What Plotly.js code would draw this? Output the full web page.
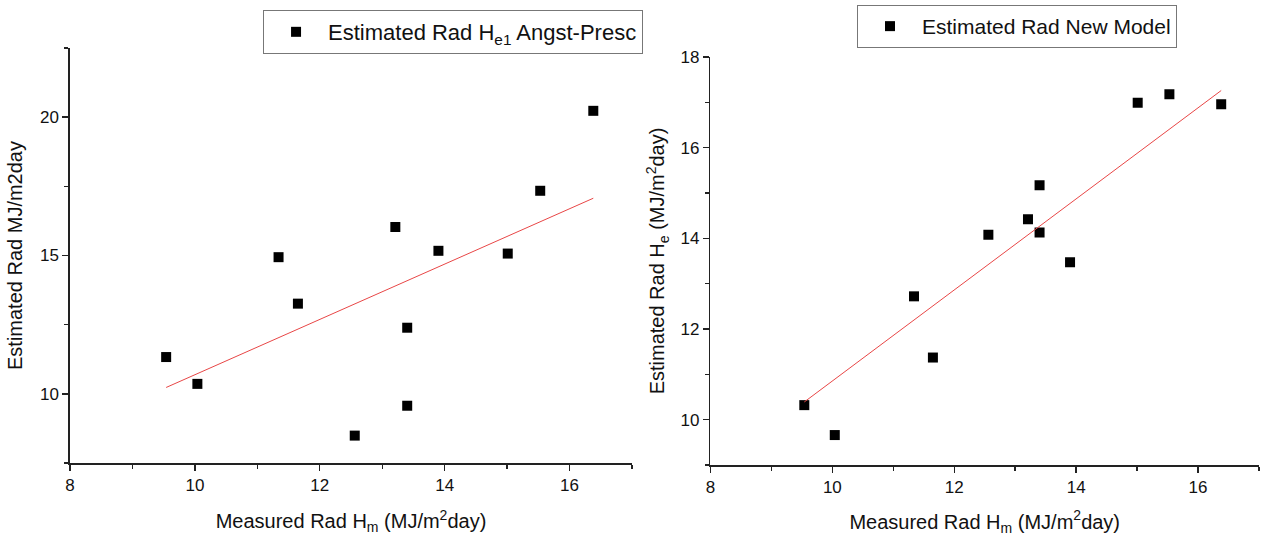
<!DOCTYPE html>
<html>
<head>
<meta charset="utf-8">
<script src="https://cdn.plot.ly/plotly-3.0.1.min.js"></script>
<style>html,body{margin:0;padding:0;background:#fff;}#chart{width:1261px;height:536px;}</style>
</head>
<body>
<div id="chart"></div>
<script>
// Measured radiation (x) shared by both panels
const measuredRad = [9.54, 10.04, 11.34, 11.65, 12.56, 13.21, 13.40, 13.40, 13.90, 15.01, 15.53, 16.38];
// Left panel: Angstrom-Prescott estimate
const angstPresc = [11.33, 10.36, 14.94, 13.26, 8.49, 16.03, 12.39, 9.57, 15.17, 15.07, 17.34, 20.23];
// Right panel: new model estimate
const newModel = [10.32, 9.66, 12.72, 11.37, 14.08, 14.42, 14.13, 15.17, 13.47, 16.99, 17.18, 16.96];
// Fit lines (end points)
const angstFitX = [9.54, 16.38];
const angstFitY = [10.23, 17.07];
const newFitX = [9.54, 16.38];
const newFitY = [10.39, 17.26];
// Tick values
const xTicks = [8, 10, 12, 14, 16];
const yTicksLeft = [10, 15, 20];
const yTicksRight = [10, 12, 14, 16, 18];

const FONT = 'Liberation Sans, Arial, Helvetica, sans-serif';
const markerStyle = {symbol: 'square', size: 10, color: '#000'};
const fitStyle = {color: 'rgb(232,70,70)', width: 1};

const traces = [
  {x: measuredRad, y: angstPresc, type: 'scatter', mode: 'markers', marker: markerStyle,
   name: 'Estimated Rad H<sub>e1</sub> Angst-Presc', xaxis: 'x', yaxis: 'y', legend: 'legend'},
  {x: angstFitX, y: angstFitY, type: 'scatter', mode: 'lines', line: fitStyle,
   showlegend: false, xaxis: 'x', yaxis: 'y'},
  {x: measuredRad, y: newModel, type: 'scatter', mode: 'markers', marker: markerStyle,
   name: 'Estimated Rad New Model', xaxis: 'x2', yaxis: 'y2', legend: 'legend2'},
  {x: newFitX, y: newFitY, type: 'scatter', mode: 'lines', line: fitStyle,
   showlegend: false, xaxis: 'x2', yaxis: 'y2'}
];

function axisBase(extra) {
  return Object.assign({
    showline: true, linecolor: '#222', linewidth: 1.6, mirror: false,
    showgrid: false, zeroline: false, ticks: 'outside', ticklen: 6, tickwidth: 1.4, tickcolor: '#222',
    tickfont: {family: FONT, size: 17, color: '#111'},
    automargin: false, fixedrange: true
  }, extra);
}
const minorX = {dtick: 1, tick0: 0, ticks: 'outside', ticklen: 4, tickwidth: 1.4, tickcolor: '#222'};
const titleFont = {family: FONT, size: 20, color: '#111'};

const layout = {
  width: 1261, height: 536,
  margin: {l: 0, r: 0, t: 0, b: 0},
  paper_bgcolor: '#fff', plot_bgcolor: '#fff',
  font: {family: FONT, color: '#111'},
  showlegend: true,
  xaxis: axisBase({
    domain: [0.0555, 0.5012], range: [8, 17], tickvals: xTicks, ticktext: xTicks.map(String),
    minor: minorX, anchor: 'y',
    title: {text: 'Measured Rad H<sub>m</sub> (MJ/m<sup>2</sup>day)', font: titleFont, standoff: 20}
  }),
  yaxis: axisBase({
    domain: [0.1362, 0.9104], range: [7.5, 22.5], tickvals: yTicksLeft, ticktext: yTicksLeft.map(String),
    minor: {dtick: 2.5, tick0: 0, ticks: 'outside', ticklen: 4, tickwidth: 1.4, tickcolor: '#222'},
    anchor: 'x',
    title: {text: 'Estimated Rad MJ/m2day', font: titleFont, standoff: 12}
  }),
  xaxis2: axisBase({
    domain: [0.5634, 0.9984], range: [8, 17], tickvals: xTicks, ticktext: xTicks.map(String),
    minor: minorX, anchor: 'y2',
    title: {text: 'Measured Rad H<sub>m</sub> (MJ/m<sup>2</sup>day)', font: titleFont, standoff: 20}
  }),
  yaxis2: axisBase({
    domain: [0.1325, 0.8937], range: [9, 18], tickvals: yTicksRight, ticktext: yTicksRight.map(String),
    minor: minorX, anchor: 'x2',
    title: {text: 'Estimated Rad H<sub>e</sub> (MJ/m<sup>2</sup>day)', font: titleFont, standoff: 10}
  }),
  legend: {
    x: 0.2086, y: 0.9813, xanchor: 'left', yanchor: 'top',
    bordercolor: '#777', borderwidth: 1, bgcolor: '#fff',
    font: {family: FONT, size: 22, color: '#111'}, itemwidth: 54
  },
  legend2: {
    x: 0.6796, y: 0.9907, xanchor: 'left', yanchor: 'top',
    bordercolor: '#777', borderwidth: 1, bgcolor: '#fff',
    font: {family: FONT, size: 21, color: '#111'}, itemwidth: 54
  }
};

Plotly.newPlot('chart', traces, layout, {displayModeBar: false, staticPlot: true});
</script>
</body>
</html>
